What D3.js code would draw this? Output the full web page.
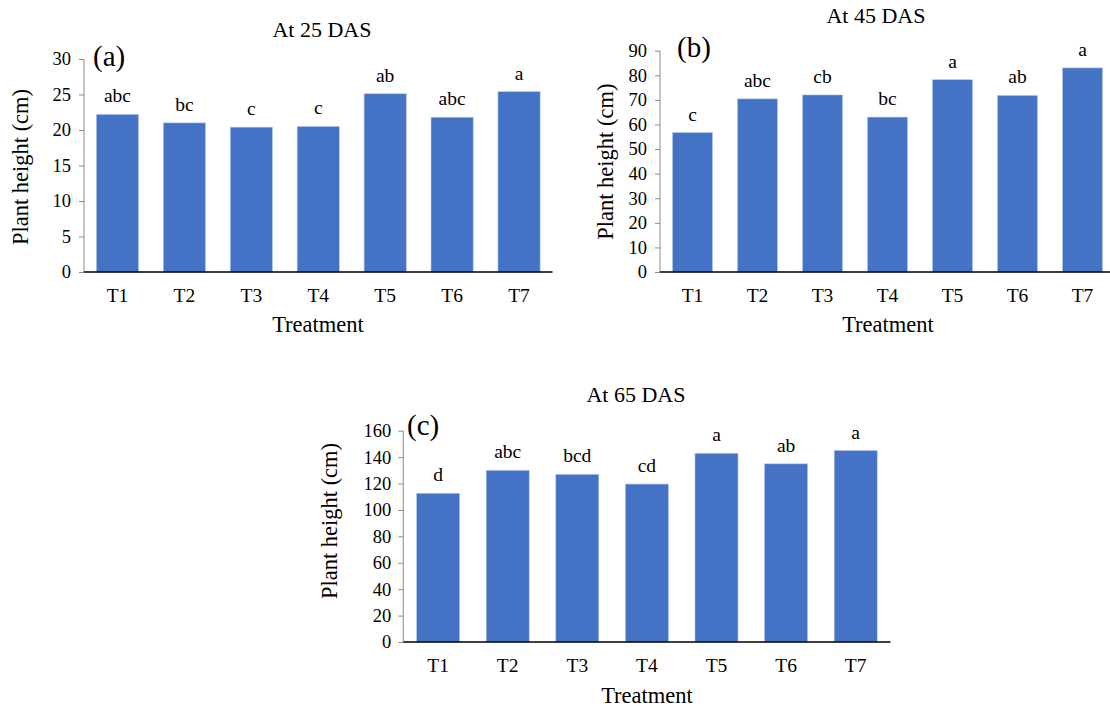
<!DOCTYPE html>
<html>
<head>
<meta charset="utf-8">
<script src="https://cdn.jsdelivr.net/npm/d3@7"></script>
<style>
  html, body { margin: 0; padding: 0; background: #fff; }
  svg { display: block; }
  text { font-family: "Liberation Serif", "Times New Roman", serif; fill: #000; }
</style>
</head>
<body>
<svg id="chart" width="1110" height="709"></svg>
<script>
// Treatments shared by all three sampling dates
const treatments = ["T1", "T2", "T3", "T4", "T5", "T6", "T7"];

// Plant height (cm) at 25 days after sowing, with significance letters
const height25 = [22.2, 21.0, 20.4, 20.5, 25.1, 21.8, 25.4];
const letters25 = ["abc", "bc", "c", "c", "ab", "abc", "a"];
const ticks25 = [0, 5, 10, 15, 20, 25, 30];

// Plant height (cm) at 45 days after sowing
const height45 = [56.7, 70.4, 72.0, 63.0, 78.2, 71.8, 83.0];
const letters45 = ["c", "abc", "cb", "bc", "a", "ab", "a"];
const ticks45 = [0, 10, 20, 30, 40, 50, 60, 70, 80, 90];

// Plant height (cm) at 65 days after sowing
const height65 = [112.6, 130.0, 127.0, 119.6, 142.9, 134.9, 145.0];
const letters65 = ["d", "abc", "bcd", "cd", "a", "ab", "a"];
const ticks65 = [0, 20, 40, 60, 80, 100, 120, 140, 160];

const svg = d3.select("#chart");
const BAR = "#4472C4";
const SERIF = "Liberation Serif, Times New Roman, serif";

const panels = [
  {
    tag: "(a)", title: "At 25 DAS", values: height25, letters: letters25, ticks: ticks25,
    left: 84, right: 552.5, bottom: 272, top: 59, pad: 0.37,
    titleX: 322, titleY: 37, tagX: 93, tagY: 66,
    yTitleX: 28, yTitleY: 167, xTitleX: 318, xTitleY: 332, tickGap: 13, catY: 302
  },
  {
    tag: "(b)", title: "At 45 DAS", values: height45, letters: letters45, ticks: ticks45,
    left: 660, right: 1115, bottom: 272, top: 50.7, pad: 0.385,
    titleX: 876, titleY: 23, tagX: 677, tagY: 57,
    yTitleX: 612.5, yTitleY: 161.7, xTitleX: 888, xTitleY: 332, tickGap: 13, catY: 302
  },
  {
    tag: "(c)", title: "At 65 DAS", values: height65, letters: letters65, ticks: ticks65,
    left: 403.3, right: 890.5, bottom: 642, top: 430.7, pad: 0.382,
    titleX: 636, titleY: 402, tagX: 407, tagY: 435,
    yTitleX: 337, yTitleY: 521, xTitleX: 647, xTitleY: 703, tickGap: 12, catY: 672
  }
];

panels.forEach(p => {
  const g = svg.append("g");
  const yMax = p.ticks[p.ticks.length - 1];

  const x = d3.scaleBand()
    .domain(treatments)
    .range([p.left, p.right])
    .paddingInner(p.pad)
    .paddingOuter(p.pad / 2);

  const y = d3.scaleLinear()
    .domain([0, yMax])
    .range([p.bottom, p.top]);

  // Bars
  g.selectAll("rect.bar")
    .data(p.values)
    .join("rect")
    .attr("class", "bar")
    .attr("x", (d, i) => x(treatments[i]))
    .attr("width", x.bandwidth())
    .attr("y", d => y(d))
    .attr("height", d => y(0) - y(d))
    .attr("fill", BAR)
    .attr("stroke", "#b4c6e9")
    .attr("stroke-width", 0.6);

  // Significance letters above bars
  g.selectAll("text.letter")
    .data(p.values)
    .join("text")
    .attr("class", "letter")
    .attr("x", (d, i) => x(treatments[i]) + x.bandwidth() / 2)
    .attr("y", d => y(d) - 12)
    .attr("text-anchor", "middle")
    .attr("font-size", 19.5)
    .text((d, i) => p.letters[i]);

  // Value axis (grey line, outward ticks)
  const yAxis = d3.axisLeft(y)
    .tickValues(p.ticks)
    .tickSize(5)
    .tickPadding(p.tickGap - 5)
    .tickFormat(d3.format("d"));
  const ya = g.append("g")
    .attr("transform", `translate(${p.left},0)`)
    .call(yAxis);
  ya.select(".domain").attr("stroke", "#8c8c8c").attr("stroke-width", 1)
    .attr("d", `M0,${p.bottom}V${p.top}`);
  ya.selectAll(".tick line").attr("stroke", "#8c8c8c");
  ya.selectAll(".tick text")
    .attr("font-family", SERIF)
    .attr("font-size", 18.5)
    .attr("fill", "#000");

  // Category axis (black baseline, no ticks)
  const xAxis = d3.axisBottom(x).tickSize(0).tickPadding(0);
  const xa = g.append("g")
    .attr("transform", `translate(0,${p.bottom})`)
    .call(xAxis);
  xa.select(".domain").attr("stroke", "#000").attr("stroke-width", 1.5)
    .attr("d", `M${p.left},0H${p.right}`);
  xa.selectAll(".tick text")
    .attr("font-family", SERIF)
    .attr("font-size", 19.5)
    .attr("fill", "#000")
    .attr("dy", null)
    .attr("y", p.catY - p.bottom);

  // Chart title
  g.append("text")
    .attr("x", p.titleX).attr("y", p.titleY)
    .attr("text-anchor", "middle")
    .attr("font-size", 22)
    .text(p.title);

  // Panel tag
  g.append("text")
    .attr("x", p.tagX).attr("y", p.tagY)
    .attr("font-size", 29)
    .text(p.tag);

  // Axis titles
  g.append("text")
    .attr("transform", `translate(${p.yTitleX},${p.yTitleY}) rotate(-90)`)
    .attr("text-anchor", "middle")
    .attr("font-size", 22.5)
    .text("Plant height (cm)");

  g.append("text")
    .attr("x", p.xTitleX).attr("y", p.xTitleY)
    .attr("text-anchor", "middle")
    .attr("font-size", 22.5)
    .text("Treatment");
});
</script>
</body>
</html>
